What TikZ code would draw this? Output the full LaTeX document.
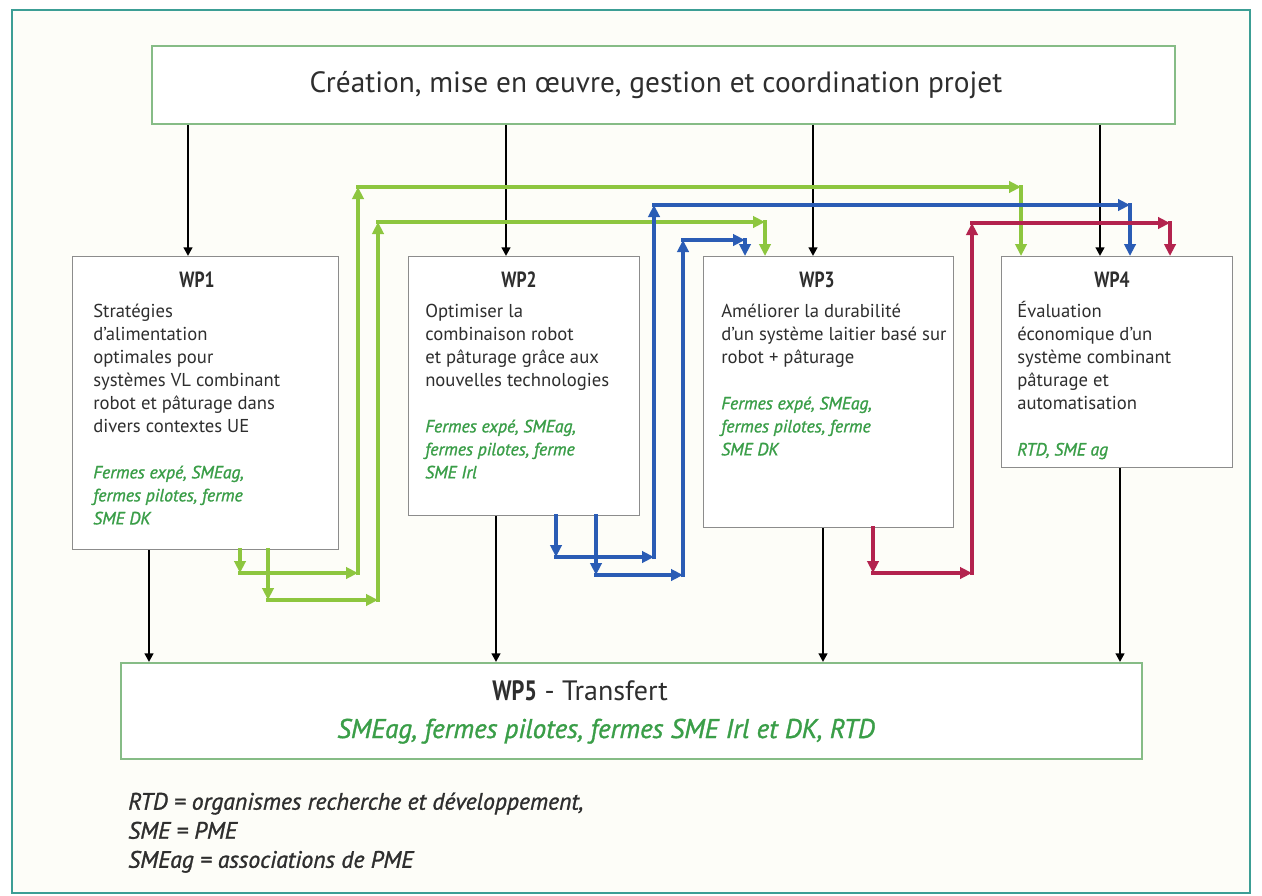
\documentclass[tikz,border=0pt]{standalone}
\usepackage{fontspec}
\setmainfont{PT Sans}
\newfontfamily\condf[FakeStretch=0.8]{PT Sans}
\newfontfamily\semif[FakeBold=1.2]{PT Sans}
\usetikzlibrary{arrows.meta}
\definecolor{frameteal}{HTML}{3C9E95}
\definecolor{bgcream}{HTML}{FDFDF8}
\definecolor{boxgreen}{HTML}{86BC86}
\definecolor{boxgray}{HTML}{8C8C8C}
\definecolor{agreen}{HTML}{8DC63F}
\definecolor{ablue}{HTML}{2A5CB5}
\definecolor{ared}{HTML}{B3234E}
\definecolor{tgreen}{HTML}{3A9E48}
\definecolor{tgray}{HTML}{2E2E2E}
\def\px{0.75pt}
\tikzset{
  gbox/.style={draw=boxgreen, line width=1.2pt, fill=white, inner sep=0pt},
  wbox/.style={draw=boxgray, line width=0.9pt, fill=white, inner sep=0pt, anchor=north west},
  ttl/.style={inner sep=0pt, text=tgray, font=\condf\bfseries\fontsize{16.5pt}{18pt}\selectfont},
  body/.style={anchor=north west, inner sep=0pt, align=left, text=tgray, font=\fontsize{14pt}{17.25pt}\selectfont},
  leg/.style={anchor=north west, inner sep=0pt, align=left, text=tgray, font=\semif\itshape\fontsize{17.8pt}{21.8pt}\selectfont},
  barrow/.style={draw=black, line width=1.9pt, -{Triangle[length=6.5pt,width=6.5pt]}},
  seg/.style={line width=3pt, line cap=rect, -{Triangle[length=9pt,width=8.5pt]}},
  gseg/.style={seg, draw=agreen},
  bseg/.style={seg, draw=ablue},
  rseg/.style={seg, draw=ared}
}
\newcommand\gr{\semif\itshape\fontsize{13.3pt}{17.25pt}\selectfont\color{tgreen}}
\begin{document}
\begin{tikzpicture}[x=0.75pt,y=-0.75pt]
\useasboundingbox (0,0) rectangle (1262,895);
\fill[white] (0,0) rectangle (1262,895);
\draw[draw=frameteal, fill=bgcream, line width=1.5pt] (12,10) rectangle (1250,893);

% boxes
\node[gbox, minimum width=1023*\px, minimum height=78*\px] (top) at (663.5,85) {};
\node[inner sep=0pt, text=tgray, font=\fontsize{22pt}{26pt}\selectfont] (toptext) at (656,85) {Création, mise en œuvre, gestion et coordination projet};
\node[wbox, minimum width=266*\px, minimum height=293*\px] (wp1) at (72,256) {};
\node[wbox, minimum width=231*\px, minimum height=259*\px] (wp2) at (408,256) {};
\node[wbox, minimum width=250*\px, minimum height=271*\px] (wp3) at (703,256) {};
\node[wbox, minimum width=231*\px, minimum height=211*\px] (wp4) at (1001,256) {};
\node[gbox, minimum width=1021*\px, minimum height=96*\px, anchor=north west] (wp5) at (120,662) {};

% titles
\node[ttl] (t1) at (197,280) {WP1};
\node[ttl] (t2) at (519,280) {WP2};
\node[ttl] (t3) at (817,280) {WP3};
\node[ttl] (t4) at (1112,280) {WP4};

% body texts
\node[body] (b1) at (93,301) {\strut Stratégies\\ d’alimentation\\ optimales pour\\ systèmes VL combinant\\ robot et pâturage dans\\ divers contextes UE\\[17.25pt]
  \gr Fermes expé, SMEag,\\ \gr fermes pilotes, ferme\\ \gr SME DK};
\node[body] (b2) at (425,301) {\strut Optimiser la\\ combinaison robot\\ et pâturage grâce aux\\ nouvelles technologies\\[17.25pt]
  \gr Fermes expé, SMEag,\\ \gr fermes pilotes, ferme\\ \gr SME Irl};
\node[body] (b3) at (721,301) {\strut Améliorer la durabilité\\ d’un système laitier basé sur\\ robot + pâturage\\[17.25pt]
  \gr Fermes expé, SMEag,\\ \gr fermes pilotes, ferme\\ \gr SME DK};
\node[body] (b4) at (1017,301) {\strut Évaluation\\ économique d’un\\ système combinant\\ pâturage et\\ automatisation\\[17.25pt]
  \gr RTD, SME ag};

% WP5 texts
\node[anchor=base west, inner sep=0pt, text=tgray, font=\fontsize{21pt}{24pt}\selectfont] (t5) at (492,700) {{\condf\bfseries WP5} - Transfert};
\node[anchor=base west, inner sep=0pt, text=tgreen, font=\semif\itshape\fontsize{20.3pt}{24pt}\selectfont] (g5) at (337,738) {SMEag, fermes pilotes, fermes SME Irl et DK, RTD};

% legend
\node[leg] (legend) at (128,789) {\strut RTD = organismes recherche et développement,\\ SME = PME\\ SMEag = associations de PME};

% column coordinates
\coordinate (k1) at (188,0);
\coordinate (k2) at (506,0);
\coordinate (k3) at (813,0);
\coordinate (k4) at (1100,0);
\coordinate (m1) at (149,0);
\coordinate (m2) at (496,0);
\coordinate (m3) at (823,0);
\coordinate (m4) at (1120,0);

% black arrows
\draw[barrow] (top.south -| k1) -- (wp1.north -| k1);
\draw[barrow] (top.south -| k2) -- (wp2.north -| k2);
\draw[barrow] (top.south -| k3) -- (wp3.north -| k3);
\draw[barrow] (top.south -| k4) -- (wp4.north -| k4);
\draw[barrow] (wp1.south -| m1) -- (wp5.north -| m1);
\draw[barrow] (wp2.south -| m2) -- (wp5.north -| m2);
\draw[barrow] (wp3.south -| m3) -- (wp5.north -| m3);
\draw[barrow] (wp4.south -| m4) -- (wp5.north -| m4);

% green A: WP1 -> WP4
\coordinate (ga1) at (240,573);
\coordinate (ga2) at (358,573);
\coordinate (ga3) at (358,187);
\coordinate (ga4) at (1021,187);
\draw[gseg] (wp1.south -| ga1) -- (ga1);
\draw[gseg] (ga1) -- (ga2);
\draw[gseg] (ga2) -- (ga3);
\draw[gseg] (ga3) -- (ga4);
\draw[gseg] (ga4) -- (wp4.north -| ga4);

% green B: WP1 -> WP3
\coordinate (gb1) at (268,600);
\coordinate (gb2) at (378,600);
\coordinate (gb3) at (378,222);
\coordinate (gb4) at (765,222);
\draw[gseg] (wp1.south -| gb1) -- (gb1);
\draw[gseg] (gb1) -- (gb2);
\draw[gseg] (gb2) -- (gb3);
\draw[gseg] (gb3) -- (gb4);
\draw[gseg] (gb4) -- (wp3.north -| gb4);

% blue A: WP2 -> WP4
\coordinate (ba1) at (556,557);
\coordinate (ba2) at (654,557);
\coordinate (ba3) at (654,205);
\coordinate (ba4) at (1130,205);
\draw[bseg] (wp2.south -| ba1) -- (ba1);
\draw[bseg] (ba1) -- (ba2);
\draw[bseg] (ba2) -- (ba3);
\draw[bseg] (ba3) -- (ba4);
\draw[bseg] (ba4) -- (wp4.north -| ba4);

% blue B: WP2 -> WP3
\coordinate (bb1) at (596,575);
\coordinate (bb2) at (683,575);
\coordinate (bb3) at (683,240);
\coordinate (bb4) at (745,240);
\draw[bseg] (wp2.south -| bb1) -- (bb1);
\draw[bseg] (bb1) -- (bb2);
\draw[bseg] (bb2) -- (bb3);
\draw[bseg] (bb3) -- (bb4);
\draw[bseg] (bb4) -- (wp3.north -| bb4);

% red: WP3 -> WP4
\coordinate (ra1) at (873,573);
\coordinate (ra2) at (972,573);
\coordinate (ra3) at (972,223);
\coordinate (ra4) at (1170,223);
\draw[rseg] (wp3.south -| ra1) -- (ra1);
\draw[rseg] (ra1) -- (ra2);
\draw[rseg] (ra2) -- (ra3);
\draw[rseg] (ra3) -- (ra4);
\draw[rseg] (ra4) -- (wp4.north -| ra4);
\end{tikzpicture}
\end{document}
